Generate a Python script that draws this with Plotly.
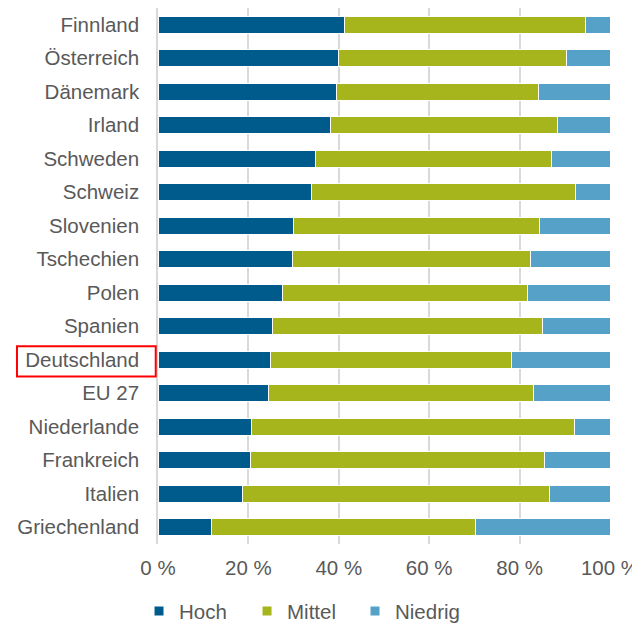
import plotly.graph_objects as go

countries = ["Finnland", "Österreich", "Dänemark", "Irland", "Schweden", "Schweiz",
             "Slovenien", "Tschechien", "Polen", "Spanien", "Deutschland", "EU 27",
             "Niederlande", "Frankreich", "Italien", "Griechenland"]
hoch = [41.3, 40.0, 39.4, 38.2, 34.8, 34.0, 30.0, 29.8, 27.5, 25.4, 24.8, 24.4, 20.6, 20.5, 18.7, 11.8]
mittel = [53.3, 50.4, 44.8, 50.2, 52.3, 58.4, 54.4, 52.6, 54.3, 59.6, 53.3, 58.7, 71.5, 65.1, 68.0, 58.4]
niedrig = [5.4, 9.6, 15.8, 11.6, 12.9, 7.6, 15.6, 17.6, 18.2, 15.0, 21.9, 16.9, 7.9, 14.4, 13.3, 29.8]
tick_vals = [0, 20, 40, 60, 80, 100]
tick_text = ["0 %", "20 %", "40 %", "60 %", "80 %", "100 %"]
highlight = "Deutschland"

colors = {"Hoch": "#005b8d", "Mittel": "#a6b51b", "Niedrig": "#55a1c8"}
font_family = "Liberation Sans, Arial, sans-serif"
text_color = "#595959"
fs = 20.5

fig = go.Figure()
for name, vals in [("Hoch", hoch), ("Mittel", mittel), ("Niedrig", niedrig)]:
    fig.add_trace(go.Bar(
        y=countries, x=vals, name=name, orientation="h",
        marker=dict(color=colors[name], line=dict(color="white", width=1)),
        hoverinfo="x+y+name", showlegend=False, legendgroup=name,
    ))
# legend entries with small square symbols
for name in ["Hoch", "Mittel", "Niedrig"]:
    fig.add_trace(go.Scatter(
        x=[None], y=[None], mode="markers", name=name, legendgroup=name,
        marker=dict(symbol="square", size=9, color=colors[name]),
        showlegend=True,
    ))

idx = countries.index(highlight)
fig.add_shape(type="rect", xref="paper", yref="y",
              x0=-0.312, x1=-0.005, y0=idx - 0.4, y1=idx + 0.5,
              line=dict(color="#ff0000", width=2), fillcolor="rgba(0,0,0,0)")

fig.update_layout(
    barmode="stack",
    bargap=0.48,
    width=632, height=615,
    margin=dict(l=150, r=30, t=0, b=79, autoexpand=False),
    plot_bgcolor="white", paper_bgcolor="white",
    font=dict(family=font_family, size=fs, color=text_color),
    legend=dict(orientation="h", x=-0.042, xanchor="left", y=-0.088, yanchor="top",
                font=dict(size=fs, color=text_color), entrywidth=63, traceorder="normal",
                itemwidth=30, itemclick=False),
    xaxis=dict(range=[0, 100], tickvals=tick_vals, ticktext=tick_text,
               showgrid=True, gridcolor="#d9d9d9", gridwidth=1.5,
               zeroline=False, showline=False, ticks="", automargin=False,
               ticklabelstandoff=9, tickfont=dict(size=fs, color=text_color)),
    yaxis=dict(categoryorder="array", categoryarray=countries, autorange="reversed",
               showline=True, linecolor="#d9d9d9", linewidth=1.5,
               showgrid=False, ticks="", ticklabelstandoff=13, automargin=False,
               tickfont=dict(size=fs, color=text_color)),
)

fig.write_html("out.html")
